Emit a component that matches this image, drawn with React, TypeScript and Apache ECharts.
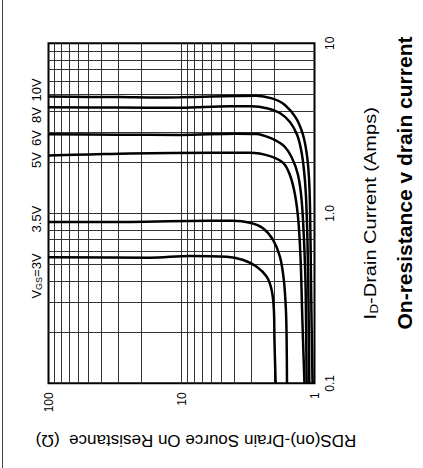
import React, { useEffect, useRef } from 'react';
import * as echarts from 'echarts';

// Grid (log paper) lines
const RDS_GRID = [2, 3, 4, 5, 6, 7, 8, 9, 10, 20, 30, 40, 50, 60, 70, 80, 90];
const ID_GRID = [0.2, 0.3, 0.4, 0.5, 0.6, 0.7, 0.8, 0.9, 1, 2, 3, 4, 5, 6, 7, 8, 9];

// Tick labels
const RDS_TICK_VALUES = [1, 10, 100];
const RDS_TICK_LABELS = ['1', '10', '100'];
const ID_TICK_VALUES = [0.1, 1, 10];
const ID_TICK_LABELS = ['0.1', '1.0', '10'];

// Curves: [RDS(on) ohm, ID amps]
const VGS_3V = [[100, 0.551], [17.25, 0.548], [8.63, 0.561], [4.57, 0.556], [3.43, 0.531], [2.72, 0.485], [2.29, 0.424], [2.1, 0.354], [2.02, 0.27], [2.0, 0.18], [1.96, 0.1]];
const VGS_3V5 = [[100, 0.889], [24.4, 0.889], [6.46, 0.905], [4.1, 0.905], [3.05, 0.88], [2.44, 0.816], [2.05, 0.697], [1.82, 0.556], [1.7, 0.405], [1.64, 0.27], [1.62, 0.18], [1.61, 0.1]];
const VGS_5V = [[100, 2.19], [48.7, 2.22], [24.4, 2.25], [5.8, 2.27], [3.05, 2.27], [2.16, 2.17], [1.72, 1.98], [1.53, 1.68], [1.4, 1.28], [1.32, 0.89], [1.27, 0.52], [1.24, 0.27], [1.22, 0.18], [1.19, 0.1]];
const VGS_6V = [[100, 2.92], [30, 2.9], [10.3, 2.89], [3.85, 2.94], [2.75, 2.93], [2.09, 2.75], [1.7, 2.49], [1.48, 2.12], [1.33, 1.68], [1.25, 1.2], [1.2, 0.7], [1.17, 0.405], [1.16, 0.27], [1.145, 0.1]];
const VGS_8V = [[100, 4.2], [30, 4.19], [10.3, 4.18], [4.32, 4.26], [3.0, 4.26], [2.24, 4.14], [1.82, 3.89], [1.53, 3.44], [1.35, 2.89], [1.26, 2.36], [1.2, 1.8], [1.16, 1.28], [1.13, 0.7], [1.11, 0.31], [1.094, 0.1]];
const VGS_10V = [[100, 4.86], [50, 4.84], [29, 4.83], [15, 4.8], [10.3, 4.81], [6, 4.86], [3.85, 4.9], [2.75, 4.92], [2.09, 4.74], [1.67, 4.34], [1.38, 3.64], [1.22, 2.89], [1.14, 2.2], [1.1, 1.61], [1.08, 1.05], [1.06, 0.35], [1.035, 0.1]];

const CURVES = [VGS_3V, VGS_3V5, VGS_5V, VGS_6V, VGS_8V, VGS_10V];
const CURVE_NAMES = ['VGS=3V', 'VGS=3.5V', 'VGS=5V', 'VGS=6V', 'VGS=8V', 'VGS=10V'];

const FONT = '"Liberation Sans", Arial, sans-serif';

function tickLabel(values: number[], labels: string[]) {
  return (v: number) => {
    const i = values.findIndex((t) => Math.abs(Math.log10(t) - Math.log10(v)) < 0.01);
    return i >= 0 ? labels[i] : '';
  };
}

function rotText(x: number, y: number, rotation: number, text: string, size: number, weight: string, rich?: any, scaleX = 1) {
  return {
    type: 'text',
    x,
    y,
    rotation,
    scaleX,
    style: {
      text,
      fontSize: size,
      fontWeight: weight,
      fontFamily: FONT,
      fill: '#000',
      textAlign: 'center',
      textVerticalAlign: 'middle',
      align: 'center',
      verticalAlign: 'middle',
      rich,
    },
  };
}

export default function App() {
  const ref = useRef<HTMLDivElement>(null);
  useEffect(() => {
    if (!ref.current) return;
    const chart = echarts.init(ref.current, undefined, { renderer: 'svg' });
    const sub = (s: number) => ({
      a: { fontSize: s, fontFamily: FONT, fill: '#000' },
      b: { fontSize: Math.round(s * 0.7), fontFamily: FONT, fill: '#000', verticalAlign: 'bottom', padding: [Math.round(s * 0.35), 0, 0, 0] },
    });
    chart.setOption({
      animation: false,
      backgroundColor: '#fff',
      grid: { left: 48.5, top: 43.3, width: 266, height: 340, show: true, borderColor: '#000', borderWidth: 2, backgroundColor: 'transparent' },
      xAxis: {
        type: 'log',
        logBase: 10,
        min: 1,
        max: 100,
        inverse: true,
        position: 'bottom',
        axisLine: { show: false },
        axisTick: { show: false },
        splitLine: { show: false },
        axisLabel: { rotate: 90, margin: 9, fontSize: 12, fontFamily: FONT, color: '#000', formatter: tickLabel(RDS_TICK_VALUES, RDS_TICK_LABELS) },
      },
      yAxis: {
        type: 'log',
        logBase: 10,
        min: 0.1,
        max: 10,
        position: 'right',
        axisLine: { show: false },
        axisTick: { show: false },
        splitLine: { show: false },
        axisLabel: { rotate: 90, margin: 9, fontSize: 12, fontFamily: FONT, color: '#000', formatter: tickLabel(ID_TICK_VALUES, ID_TICK_LABELS) },
      },
      series: [
        {
          type: 'line',
          name: 'grid',
          data: [],
          silent: true,
          markLine: {
            silent: true,
            symbol: 'none',
            label: { show: false },
            lineStyle: { color: '#333', width: 1, type: 'solid' },
            data: [...RDS_GRID.map((v) => ({ xAxis: v })), ...ID_GRID.map((v) => ({ yAxis: v }))],
          },
        },
        ...CURVES.map((d, i) => ({
          type: 'line',
          name: CURVE_NAMES[i],
          data: d,
          symbol: 'none',
          smooth: 0.35,
          lineStyle: { color: '#000', width: 2.5 },
          z: 5,
        })),
      ],
      graphic: [
        { type: 'line', shape: { x1: 2.5, y1: 0, x2: 2.5, y2: 468 }, style: { stroke: '#444', lineWidth: 1 } },
        rotText(404, 183, Math.PI / 2, 'On-resistance v drain current', 21, 'bold'),
        rotText(371, 213.3, Math.PI / 2, '{a|I}{b|D}{a|-Drain Current (Amps)}', 16, 'normal', sub(16), 1.25),
        rotText(196, 440, Math.PI, 'RDS(on)-Drain Source On Resistance  (Ω)', 17, 'normal'),
        rotText(36, 276, Math.PI / 2, '{a|V}{b|GS}{a|=3V}', 13, 'normal', sub(13)),
        rotText(36, 219, Math.PI / 2, '3.5V', 13, 'normal'),
        rotText(36, 160, Math.PI / 2, '5V', 13, 'normal'),
        rotText(36, 138, Math.PI / 2, '6V', 13, 'normal'),
        rotText(36, 115, Math.PI / 2, '8V', 13, 'normal'),
        rotText(36, 90, Math.PI / 2, '10V', 13, 'normal'),
      ],
    });
    return () => chart.dispose();
  }, []);
  return <div ref={ref} style={{ position: 'fixed', left: 0, top: 0, width: 423, height: 468, background: '#fff' }} />;
}
